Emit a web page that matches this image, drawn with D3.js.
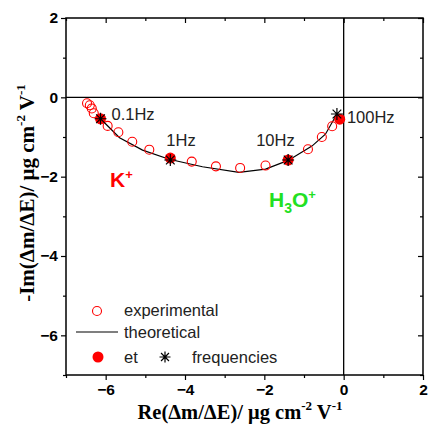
<!DOCTYPE html>
<html>
<head>
<meta charset="utf-8">
<script src="https://cdn.jsdelivr.net/npm/d3@7/dist/d3.min.js"></script>
<style>
  body { margin: 0; background: #fff; }
  text { font-family: "Liberation Sans", Arial, sans-serif; }
</style>
</head>
<body>
<div id="chart"></div>
<script>
// ---- data ----
var expX = [-6.47, -6.40, -6.35, -6.30, -5.95, -5.68, -5.33, -4.90, -3.83, -3.22, -2.61, -1.97, -0.90, -0.55, -0.29];
var expY = [-0.15, -0.20, -0.28, -0.40, -0.72, -0.88, -1.12, -1.32, -1.62, -1.74, -1.78, -1.72, -1.31, -1.00, -0.73];

var theoX = [-6.13, -5.65, -5.07, -4.40, -3.56, -2.64, -1.97, -1.40, -0.80, -0.46, -0.17];
var theoY = [-0.54, -1.02, -1.33, -1.56, -1.75, -1.89, -1.81, -1.59, -1.23, -0.93, -0.42];

var etX = [-6.13, -4.37, -1.40, -0.10];
var etY = [-0.54, -1.53, -1.58, -0.55];

var freqX = [-6.13, -4.37, -1.40, -0.17];
var freqY = [-0.54, -1.58, -1.58, -0.42];
var freqLabels = ["0.1Hz", "1Hz", "10Hz", "100Hz"];

var xTicks = [-6, -4, -2, 0, 2];
var yTicks = [2, 0, -2, -4, -6];
var minorTicks = [-7, -5, -3, -1, 1];

// ---- setup ----
var W = 428, H = 435;
var margin = { top: 18, right: 5, bottom: 60, left: 66 };
var width = W - margin.left - margin.right;
var height = H - margin.top - margin.bottom;

var svg = d3.select("#chart").append("svg")
    .attr("width", W)
    .attr("height", H);
var g = svg.append("g")
    .attr("transform", "translate(" + margin.left + "," + margin.top + ")");

var x = d3.scaleLinear().domain([-7, 2]).range([0, width]);
var y = d3.scaleLinear().domain([-7, 2]).range([height, 0]);

// zero lines
g.append("line")
    .attr("x1", 0).attr("x2", width)
    .attr("y1", y(0)).attr("y2", y(0))
    .style("stroke", "#000").style("stroke-width", 1.3);
g.append("line")
    .attr("x1", x(0)).attr("x2", x(0))
    .attr("y1", 0).attr("y2", height)
    .style("stroke", "#000").style("stroke-width", 1.3);

// axes (bottom / left outward, top / right inward)
function styleAxis(sel) {
  sel.select(".domain").remove();
  sel.selectAll("line").style("stroke", "#000").style("stroke-width", 1.2);
  sel.selectAll("text")
    .style("font-family", "'Liberation Sans', Arial, sans-serif")
    .style("font-weight", "bold")
    .style("font-size", "15.5px")
    .style("fill", "#000");
}

var xAxis = g.append("g").attr("transform", "translate(0," + height + ")")
    .call(d3.axisBottom(x).tickValues(xTicks).tickFormat(d3.format("d")).tickSize(5).tickPadding(4));
styleAxis(xAxis);
var xMinor = g.append("g").attr("transform", "translate(0," + height + ")")
    .call(d3.axisBottom(x).tickValues(minorTicks).tickFormat("").tickSize(3));
styleAxis(xMinor);

var yAxis = g.append("g")
    .call(d3.axisLeft(y).tickValues(yTicks).tickFormat(d3.format("d")).tickSize(5).tickPadding(3));
styleAxis(yAxis);
var yMinor = g.append("g")
    .call(d3.axisLeft(y).tickValues(minorTicks).tickFormat("").tickSize(3));
styleAxis(yMinor);

var topAxis = g.append("g")
    .call(d3.axisBottom(x).tickValues(xTicks).tickFormat("").tickSize(5));
styleAxis(topAxis);
var topMinor = g.append("g")
    .call(d3.axisBottom(x).tickValues(minorTicks).tickFormat("").tickSize(3));
styleAxis(topMinor);
var rightAxis = g.append("g").attr("transform", "translate(" + width + ",0)")
    .call(d3.axisLeft(y).tickValues(yTicks).tickFormat("").tickSize(5));
styleAxis(rightAxis);
var rightMinor = g.append("g").attr("transform", "translate(" + width + ",0)")
    .call(d3.axisLeft(y).tickValues(minorTicks).tickFormat("").tickSize(3));
styleAxis(rightMinor);

// frame
g.append("rect")
    .attr("width", width).attr("height", height)
    .style("fill", "none").style("stroke", "#000").style("stroke-width", 1.5);

// theoretical line
var line = d3.line().x(d => x(d[0])).y(d => y(d[1]));
g.append("path")
    .datum(d3.zip(theoX, theoY))
    .attr("d", line)
    .style("fill", "none").style("stroke", "#000").style("stroke-width", 1.2);

// experimental circles
g.selectAll(".exp").data(d3.zip(expX, expY)).enter().append("circle")
    .attr("class", "exp")
    .attr("cx", d => x(d[0])).attr("cy", d => y(d[1]))
    .attr("r", 4.5)
    .style("fill", "none").style("stroke", "#ff0000").style("stroke-width", 1.1);

// et filled circles
g.selectAll(".et").data(d3.zip(etX, etY)).enter().append("circle")
    .attr("class", "et")
    .attr("cx", d => x(d[0])).attr("cy", d => y(d[1]))
    .attr("r", 5.5)
    .style("fill", "#ff0000");

// star marker path
function star(cx, cy, r) {
  var k = r * 0.72;
  return "M" + (cx - r) + "," + cy + "L" + (cx + r) + "," + cy +
         "M" + cx + "," + (cy - r) + "L" + cx + "," + (cy + r) +
         "M" + (cx - k) + "," + (cy - k) + "L" + (cx + k) + "," + (cy + k) +
         "M" + (cx - k) + "," + (cy + k) + "L" + (cx + k) + "," + (cy - k);
}

g.selectAll(".freq").data(d3.zip(freqX, freqY)).enter().append("path")
    .attr("class", "freq")
    .attr("d", d => star(x(d[0]), y(d[1]), 6))
    .style("fill", "none").style("stroke", "#000").style("stroke-width", 1.2);

// frequency labels (pixel offset from the star)
var labelOff = [[11, 1], [-4, -14], [-32, -14], [10, 9]];
g.selectAll(".flab").data(freqLabels).enter().append("text")
    .attr("class", "flab")
    .attr("x", (d, i) => x(freqX[i]) + labelOff[i][0])
    .attr("y", (d, i) => y(freqY[i]) + labelOff[i][1])
    .style("font-size", "16.5px")
    .style("fill", "#222")
    .text(d => d);

// ion labels
var kLab = g.append("text")
    .attr("x", 44).attr("y", 169)
    .style("font-size", "21px").style("font-weight", "bold").style("fill", "#ff0000");
kLab.append("tspan").text("K");
kLab.append("tspan").attr("dy", -8).style("font-size", "13px").text("+");

var hLab = g.append("text")
    .attr("x", 203).attr("y", 189)
    .style("font-size", "21px").style("font-weight", "bold").style("fill", "#22e022");
hLab.append("tspan").text("H");
hLab.append("tspan").attr("dy", 6).style("font-size", "14px").text("3");
hLab.append("tspan").attr("dy", -6).text("O");
hLab.append("tspan").attr("dy", -8).style("font-size", "13px").text("+");

// legend
var leg = svg.append("g");
leg.append("circle").attr("cx", 97).attr("cy", 311).attr("r", 4.5)
    .style("fill", "none").style("stroke", "#ff0000").style("stroke-width", 1.1);
leg.append("text").attr("x", 124).attr("y", 316).style("font-size", "16.5px").style("fill", "#222").text("experimental");
leg.append("line").attr("x1", 76).attr("x2", 118).attr("y1", 332).attr("y2", 332)
    .style("stroke", "#000").style("stroke-width", 1.2);
leg.append("text").attr("x", 124).attr("y", 338).style("font-size", "16.5px").style("fill", "#222").text("theoretical");
leg.append("circle").attr("cx", 98).attr("cy", 357).attr("r", 5.5).style("fill", "#ff0000");
leg.append("text").attr("x", 124).attr("y", 363).style("font-size", "16.5px").style("fill", "#222").text("et");
leg.append("path").attr("d", star(165, 357, 5.5))
    .style("fill", "none").style("stroke", "#000").style("stroke-width", 1.2);
leg.append("text").attr("x", 192).attr("y", 363).style("font-size", "16.5px").style("fill", "#222").text("frequencies");

// axis titles
var titleFont = "'Liberation Serif', 'Times New Roman', serif";
var xt = svg.append("text")
    .attr("x", 240).attr("y", 419)
    .attr("text-anchor", "middle")
    .style("font-family", titleFont).style("font-weight", "bold").style("font-size", "20.5px");
xt.append("tspan").text("Re(\u0394m/\u0394E)/ \u03bcg cm");
xt.append("tspan").attr("dy", -9).style("font-size", "13px").text("-2");
xt.append("tspan").attr("dy", 9).text(" V");
xt.append("tspan").attr("dy", -9).style("font-size", "13px").text("-1");

var yt = svg.append("text")
    .attr("transform", "translate(34," + 193 + ") rotate(-90)")
    .attr("text-anchor", "middle")
    .style("font-family", titleFont).style("font-weight", "bold").style("font-size", "21px");
yt.append("tspan").text("-Im(\u0394m/\u0394E)/ \u03bcg cm");
yt.append("tspan").attr("dy", -9).style("font-size", "13px").text("-2");
yt.append("tspan").attr("dy", 9).text(" V");
yt.append("tspan").attr("dy", -9).style("font-size", "13px").text("-1");
</script>
</body>
</html>
